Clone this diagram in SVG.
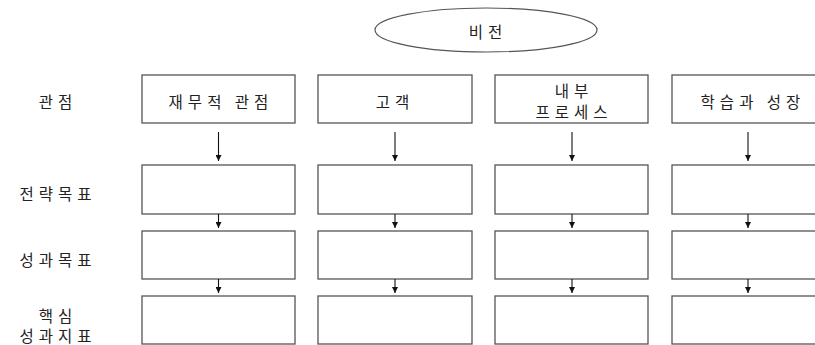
<svg xmlns="http://www.w3.org/2000/svg" width="815" height="345" viewBox="0 0 815 345">
<style>
  text { font-family: "Noto Sans CJK KR", "Noto Sans", sans-serif; font-size: 15.5px; fill: #222; text-anchor: middle; dominant-baseline: central; letter-spacing: 5px; }
  .box { fill: #fff; stroke: #555; stroke-width: 1.3; }
  .ell { fill: #fff; stroke: #555; stroke-width: 1.2; }
  .arr { stroke: #111; stroke-width: 1.1; fill: none; marker-end: url(#ah); }
</style>
<defs>
  <marker id="ah" viewBox="0 0 8 8" refX="8" refY="4" markerWidth="6" markerHeight="6" markerUnits="userSpaceOnUse" orient="auto">
    <path d="M0,0 L8,4 L0,8 Z" fill="#111"/>
  </marker>
</defs>
<rect width="815" height="345" fill="#fff"/>

<g id="vision">
  <ellipse class="ell" cx="486" cy="30" rx="111" ry="22"/>
  <text x="488" y="31">비전</text>
</g>

<g id="row-labels">
  <text x="58" y="101">관점</text>
  <text x="58" y="193">전략목표</text>
  <text x="58" y="259">성과목표</text>
  <text x="58" y="315">핵심</text>
  <text x="58" y="335">성과지표</text>
</g>

<g id="p1"><rect class="box" x="142" y="75" width="153" height="48"/><text x="221" y="101">재무적 관점</text></g>
<g id="p2"><rect class="box" x="318" y="75" width="154" height="48"/><text x="395" y="101">고객</text></g>
<g id="p3"><rect class="box" x="495" y="75" width="153" height="48"/><text x="574" y="89.5">내부</text><text x="574" y="111">프로세스</text></g>
<g id="p4"><rect class="box" x="672" y="75" width="153" height="48"/><text x="753" y="101">학습과 성장</text></g>

<g id="s1"><rect class="box" x="142" y="165" width="153" height="49"/></g>
<g id="s2"><rect class="box" x="318" y="165" width="154" height="49"/></g>
<g id="s3"><rect class="box" x="495" y="165" width="153" height="49"/></g>
<g id="s4"><rect class="box" x="672" y="165" width="153" height="49"/></g>

<g id="g1"><rect class="box" x="142" y="231" width="153" height="48"/></g>
<g id="g2"><rect class="box" x="318" y="231" width="154" height="48"/></g>
<g id="g3"><rect class="box" x="495" y="231" width="153" height="48"/></g>
<g id="g4"><rect class="box" x="672" y="231" width="153" height="48"/></g>

<g id="k1"><rect class="box" x="142" y="296" width="153" height="48"/></g>
<g id="k2"><rect class="box" x="318" y="296" width="154" height="48"/></g>
<g id="k3"><rect class="box" x="495" y="296" width="153" height="48"/></g>
<g id="k4"><rect class="box" x="672" y="296" width="153" height="48"/></g>

<g id="connectors">
  <line class="arr" x1="218.5" y1="132" x2="218.5" y2="161"/>
  <line class="arr" x1="395" y1="132" x2="395" y2="161"/>
  <line class="arr" x1="572" y1="132" x2="572" y2="161"/>
  <line class="arr" x1="748" y1="132" x2="748" y2="161"/>

  <line class="arr" x1="218.5" y1="214" x2="218.5" y2="228"/>
  <line class="arr" x1="395" y1="214" x2="395" y2="228"/>
  <line class="arr" x1="572" y1="214" x2="572" y2="228"/>
  <line class="arr" x1="748" y1="214" x2="748" y2="228"/>

  <line class="arr" x1="218.5" y1="279" x2="218.5" y2="293"/>
  <line class="arr" x1="395" y1="279" x2="395" y2="293"/>
  <line class="arr" x1="572" y1="279" x2="572" y2="293"/>
  <line class="arr" x1="748" y1="279" x2="748" y2="293"/>
</g>
</svg>
